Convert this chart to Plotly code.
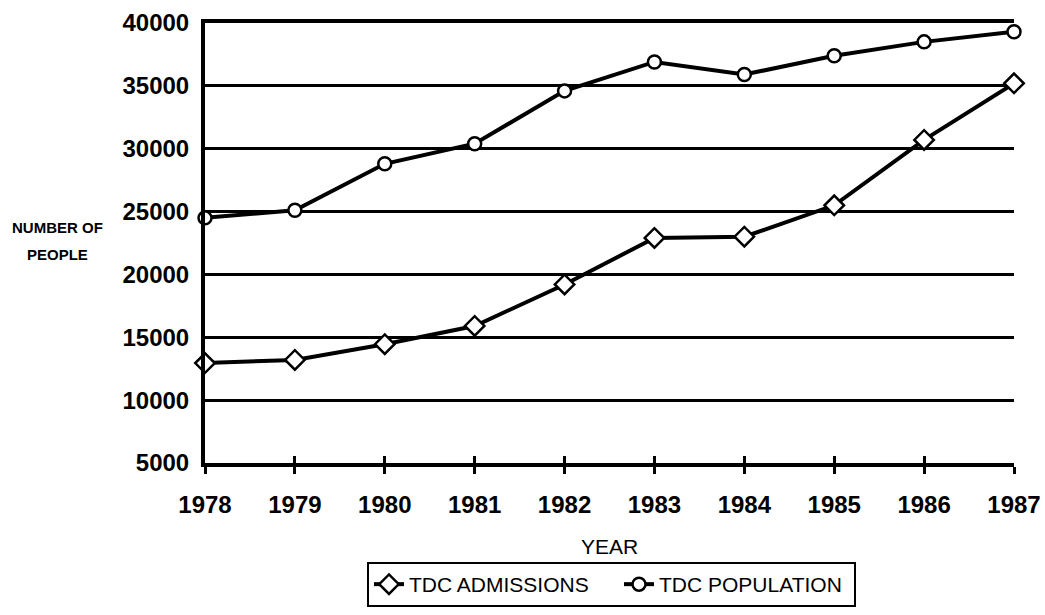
import plotly.graph_objects as go

years = [1978, 1979, 1980, 1981, 1982, 1983, 1984, 1985, 1986, 1987]
admissions = [12950, 13200, 14450, 15900, 19200, 22900, 23000, 25500, 30700, 35200]
population = [24500, 25100, 28800, 30400, 34600, 36900, 35900, 37400, 38500, 39300]
y_ticks = [5000, 10000, 15000, 20000, 25000, 30000, 35000, 40000]

SANS = "Liberation Sans, Arial, sans-serif"
TICK_FONT = dict(family=SANS, size=24, color="black", weight="bold")

W, H = 1045, 615
L, R, T, B = 205, 31, 23, 152
PW, PH = W - L - R, H - T - B

def px_x(xp):  # page pixel -> paper x
    return (xp - L) / PW

def px_y(yp):  # page pixel -> paper y
    return (H - B - yp) / PH

fig = go.Figure()
fig.add_trace(go.Scatter(
    x=years, y=admissions, name="TDC ADMISSIONS", mode="lines+markers",
    line=dict(color="black", width=4),
    marker=dict(symbol="diamond", size=15, color="white", line=dict(color="black", width=2.5)),
    cliponaxis=False, legendwidth=205,
))
fig.add_trace(go.Scatter(
    x=years, y=population, name="TDC POPULATION", mode="lines+markers",
    line=dict(color="black", width=4),
    marker=dict(symbol="circle", size=13, color="white", line=dict(color="black", width=2.5)),
    cliponaxis=False, legendwidth=190,
))
# invisible trace to activate xaxis2 (gives cross ticks on the x axis)
fig.add_trace(go.Scatter(x=[years[0]], y=[y_ticks[0]], xaxis="x2", mode="markers",
                         marker=dict(opacity=0), showlegend=False, hoverinfo="skip"))

fig.update_layout(
    width=W, height=H,
    margin=dict(l=L, r=R, t=T, b=B, autoexpand=False),
    paper_bgcolor="white", plot_bgcolor="white",
    showlegend=True,
    legend=dict(
        orientation="h", x=px_x(367), y=px_y(562), xanchor="left", yanchor="top",
        bordercolor="black", borderwidth=2, bgcolor="white",
        font=dict(family=SANS, size=21, color="black"),
        itemwidth=30,
    ),
    xaxis=dict(
        range=[1978, 1987], tickvals=years, ticktext=[str(y) for y in years],
        showgrid=False, zeroline=False,
        showline=True, linecolor="black", linewidth=3.5, mirror=True,
        ticks="outside", ticklen=7, tickwidth=2.5, tickcolor="black",
        tickfont=TICK_FONT, ticklabelstandoff=10,
        title=dict(text="YEAR", font=dict(family=SANS, size=21, color="black"), standoff=24),
    ),
    xaxis2=dict(
        range=[1978, 1987], tickvals=years, overlaying="x", anchor="y", side="bottom",
        showgrid=False, zeroline=False, showline=False, showticklabels=False,
        ticks="inside", ticklen=7, tickwidth=2.5, tickcolor="black",
    ),
    yaxis=dict(
        range=[5000, 40000], tickvals=y_ticks, ticktext=[str(v) for v in y_ticks],
        showgrid=True, gridcolor="black", gridwidth=3, zeroline=False,
        showline=True, linecolor="black", linewidth=4,
        ticks="", tickfont=TICK_FONT, ticklabelstandoff=7,
    ),
    annotations=[
        dict(text="NUMBER OF", xref="paper", yref="paper",
             x=px_x(57), y=px_y(227), xanchor="center", yanchor="middle",
             showarrow=False, font=dict(family=SANS, size=15, color="black", weight="bold")),
        dict(text="PEOPLE", xref="paper", yref="paper",
             x=px_x(57), y=px_y(254), xanchor="center", yanchor="middle",
             showarrow=False, font=dict(family=SANS, size=15, color="black", weight="bold")),
    ],
)

fig.write_html(
    "out.html",
    config={"displayModeBar": False},
    post_script="document.body.style.margin='0';document.body.style.overflow='hidden';",
)
